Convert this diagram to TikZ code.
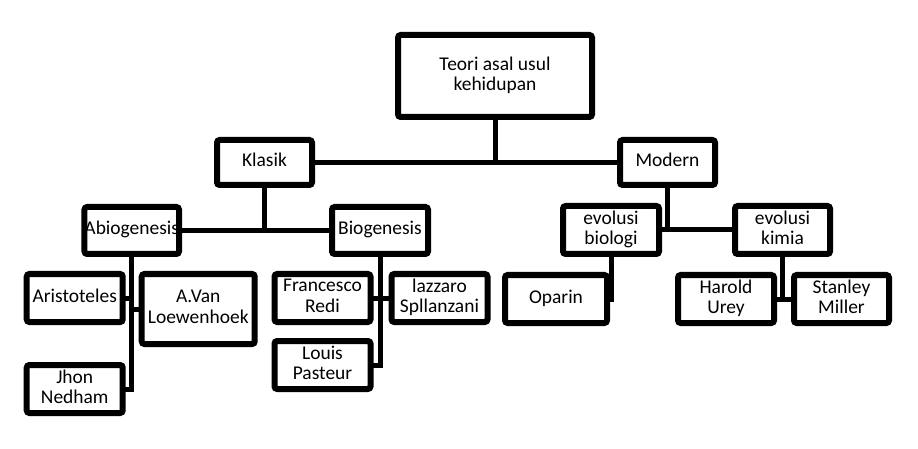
\documentclass[tikz,border=0pt]{standalone}
\usepackage{fontspec}
\setmainfont{Carlito}
\usepackage{tikz}
\usetikzlibrary{positioning,calc}

\begin{document}
\begin{tikzpicture}[
    every node/.style={font=\fontsize{14.6pt}{15.5pt}\selectfont},
    box/.style={rectangle, draw, line width=4.5pt, rounded corners=2pt, inner sep=0pt, outer sep=0pt,
                minimum width=#1, minimum height=36pt, align=center, text depth=3.5pt},
    box/.default=72pt,
    link/.style={line width=3.75pt}
]
\useasboundingbox (0,0) rectangle (688.5pt,-336.75pt);

% Root
\node[box=145.5pt, minimum height=61.5pt] (teori) at (371.25pt,-57pt) {Teori asal usul\\kehidupan};

% Klasik / Modern
\node[box=71.25pt, minimum height=33.75pt, below left=17.25pt and 64.5pt of teori] (klasik) {Klasik};
\node[box=71.25pt, minimum height=33.75pt, right=231pt of klasik] (modern) {Modern};

% Second level
\node[box=70.5pt, minimum height=35.25pt, below left=16.5pt and 28.5pt of klasik] (abio) {Abiogenesis};
\node[box, minimum height=35.25pt, right=114.75pt of abio] (bio) {Biogenesis};
\node[box, below=15.75pt of modern, xshift=-42.375pt] (evbio) {evolusi\\biologi};
\node[box=71.25pt, right=57pt of evbio] (evkim) {evolusi\\kimia};

% Abiogenesis figures
\node[box, below=15pt of abio, xshift=-42.75pt] (aris) {Aristoteles};
\node[box=84.75pt, minimum height=52.5pt, below=15pt of abio, xshift=49.875pt] (avan) {A.Van\\Loewenhoek};
\node[box, below=32.25pt of aris] (jhon) {Jhon\\Nedham};

% Biogenesis figures
\node[box, below=15pt of bio, xshift=-43.125pt] (fran) {Francesco\\Redi};
\node[box, right=15.75pt of fran] (lazz) {lazzaro\\Spllanzani};
\node[box, below=14.25pt of fran] (louis) {Louis\\Pasteur};

% Modern figures
\node[box=76.5pt, below=15.75pt of evbio, xshift=-41.25pt] (oparin) {Oparin};
\node[box, below=15.75pt of evkim, xshift=-42.375pt] (harold) {Harold\\Urey};
\node[box=71.25pt, right=15pt of harold] (stanley) {Stanley\\Miller};

% Connectors
\draw[link] (teori.south) -- (teori.south |- klasik.east);
\draw[link] (klasik.east) -- (modern.west);
\draw[link] (klasik.south) -- (klasik.south |- abio.east);
\draw[link] (abio.east) -- (bio.west);
\draw[link] (modern.south) -- (modern.south |- evbio.east);
\draw[link] (evbio.east) -- (evkim.west);
\draw[link] (abio.south) |- (jhon.east);
\draw[link] (aris.east) -- (aris.east -| abio.south);
\draw[link] (avan.west) -- (avan.west -| abio.south);
\draw[link] (bio.south) |- (louis.east);
\draw[link] (fran.east) -- (lazz.west);
\draw[link] (evbio.south) |- (oparin.east);
\draw[link] (evkim.south) -- (evkim.south |- harold.east);
\draw[link] (harold.east) -- (stanley.west);

\end{tikzpicture}
\end{document}
